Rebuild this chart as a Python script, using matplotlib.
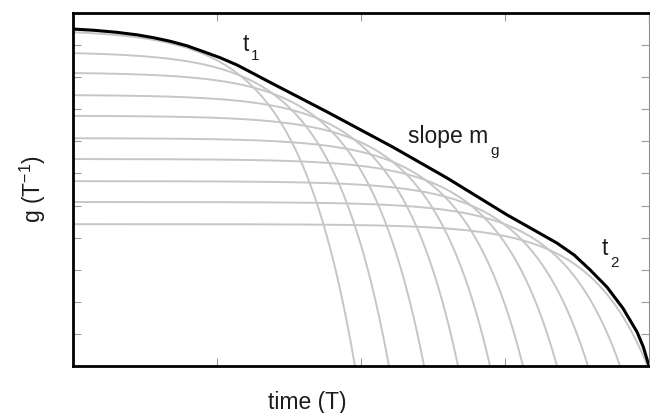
import numpy as np
import matplotlib
matplotlib.use("Agg")
import matplotlib.pyplot as plt

plt.rcParams['font.family'] = ['Liberation Sans', 'DejaVu Sans']
plt.rcParams['mathtext.fontset'] = 'custom'
plt.rcParams['mathtext.rm'] = 'Liberation Sans'
plt.rcParams['mathtext.it'] = 'Liberation Sans'

# ---- data ----
# grey family: plateau level and time at which each curve reaches zero
gray_levels = [10.48, 9.79, 9.15, 8.45, 7.80, 7.10, 6.45, 5.76, 5.11, 4.42]
gray_zero_times = [1.958, 2.194, 2.438, 2.674, 2.896, 3.125, 3.361, 3.576, 3.799, 3.99]
decay_time = 0.40  # shape constant of the grey curves

# black envelope curve (time, g)
env_t = [0.000, 0.150, 0.300, 0.444, 0.560, 0.674, 0.790, 0.903, 1.020,
         1.139, 1.250, 1.368, 1.764, 2.222, 2.597, 3.014, 3.200, 3.361,
         3.480, 3.590, 3.708, 3.819, 3.917, 3.960, 4.000]
env_g = [10.50, 10.46, 10.40, 10.32, 10.23, 10.12, 9.98, 9.80, 9.61,
         9.38, 9.12, 8.84, 7.92, 6.82, 5.86, 4.71, 4.24, 3.83,
         3.46, 3.00, 2.46, 1.80, 1.06, 0.60, 0.00]

x_ticks = [0, 1, 2, 3, 4]
y_ticks = list(range(0, 12))

W, H, DPI = 650, 413, 100
fig = plt.figure(figsize=(W / DPI, H / DPI), dpi=DPI)
ax = fig.add_axes([73 / W, (H - 366) / H, (649 - 73) / W, (366 - 13) / H])

gray = '#c6c6c6'
for L, T in zip(gray_levels, gray_zero_times):
    t = np.linspace(0, T, 400)
    g = L * (1 - np.exp((t - T) / decay_time))
    ax.plot(t, g, color=gray, lw=1.4, solid_capstyle='round', zorder=2)

ax.plot(env_t, env_g, color='black', lw=2.2, solid_joinstyle='round',
        solid_capstyle='round', zorder=3)

ax.set_xlim(0, 4)
ax.set_ylim(0, 11)
ax.set_xticks(x_ticks)
ax.set_yticks(y_ticks)
ax.tick_params(direction='in', length=6, width=0.8, color='#9a9a9a',
               top=True, right=True, labelbottom=False, labelleft=False)
for side in ['left', 'top', 'bottom']:
    ax.spines[side].set_linewidth(2.0)
    ax.spines[side].set_color('black')
ax.spines['right'].set_linewidth(0.8)
ax.spines['right'].set_color('#8a8a8a')

tc = '#1c1c1c'
big, small = 16.5, 11
ax.text(1.181, 9.816, 't', fontsize=big, color=tc, ha='left', va='baseline')
ax.text(1.236, 9.536, '1', fontsize=small, color=tc, ha='left', va='baseline')
ax.text(2.326, 6.949, 'slope m', fontsize=big, color=tc, ha='left', va='baseline')
ax.text(2.896, 6.575, 'g', fontsize=small, color=tc, ha='left', va='baseline')
ax.text(3.674, 3.459, 't', fontsize=big, color=tc, ha='left', va='baseline')
ax.text(3.729, 3.085, '2', fontsize=small, color=tc, ha='left', va='baseline')

fig.text(307 / W, (H - 409) / H, 'time (T)', fontsize=big, color=tc,
         ha='center', va='baseline')
fig.text(33 / W, (H - 189) / H, r'g (T$^{\mathregular{-1}}$)', fontsize=big,
         color=tc, ha='center', va='center', rotation=90)

fig.savefig('out.png', dpi=DPI)
